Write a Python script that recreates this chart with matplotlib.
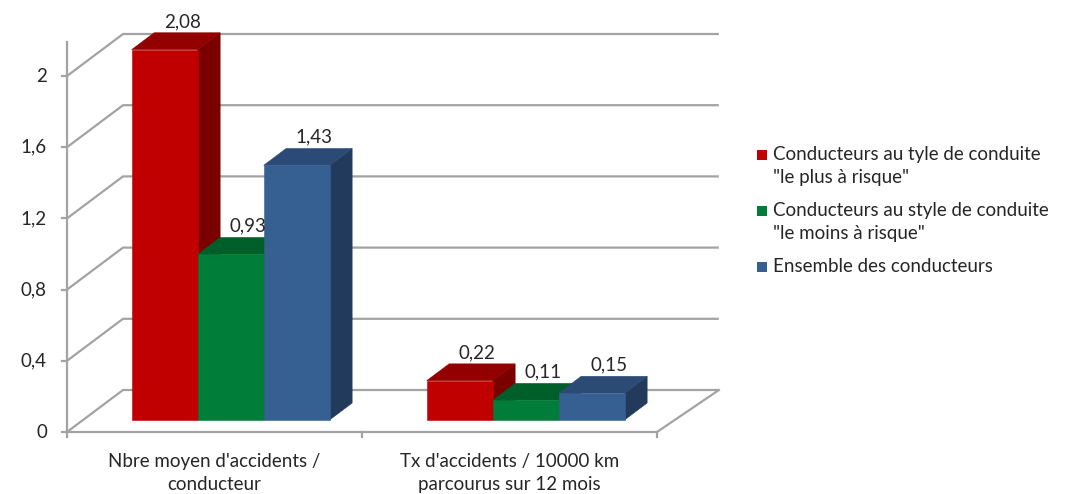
import matplotlib
matplotlib.use("Agg")
import matplotlib.pyplot as plt
from matplotlib.patches import Polygon, Rectangle

# ---- data -------------------------------------------------------------
categories = ["Nbre moyen d'accidents /\nconducteur",
              "Tx d'accidents / 10000 km\nparcourus sur 12 mois"]
series_names = ['Conducteurs au tyle de conduite\n"le plus à risque"',
                'Conducteurs au style de conduite\n"le moins à risque"',
                'Ensemble des conducteurs']
most_risky = [2.08, 0.22]
least_risky = [0.93, 0.11]
all_drivers = [1.43, 0.15]
value_labels = [["2,08", "0,22"], ["0,93", "0,11"], ["1,43", "0,15"]]
yticks = [0, 0.4, 0.8, 1.2, 1.6, 2.0]
ytick_labels = ["0", "0,4", "0,8", "1,2", "1,6", "2"]

series_values = [most_risky, least_risky, all_drivers]
# front / top / side shades for each series
palette = [("#C00000", "#930000", "#7A0000"),
           ("#007E39", "#005E28", "#004C20"),
           ("#376092", "#2B4B76", "#223B5D")]

# ---- figure & scales ---------------------------------------------------
W, H = 1070, 494
fig = plt.figure(figsize=(W / 100, H / 100), dpi=100)
ax = fig.add_axes([0, 0, 1, 1])
ax.axis("off")

PX_CAT = 295.0     # pixels per category
PX_VAL = 178.0     # pixels per unit of value
X0, Y0 = 67.0, 432.0
ax.set_xlim(-X0 / PX_CAT, (W - X0) / PX_CAT)
ax.set_ylim(-(H - Y0) / PX_VAL, Y0 / PX_VAL)

DX = 56 / PX_CAT   # depth offset of the back wall
DY = 42 / PX_VAL
ncat = len(categories)


def proj(x, v, d):
    return (x + d * DX, v + d * DY)


plt.rcParams["font.family"] = ["Lato", "DejaVu Sans"]
grid_c = "#A3A3A3"
lw = 1.6
FS = 13.5
TXT = "#262626"

# walls: side diagonals + back gridlines
for v in yticks:
    a, b = proj(0, v, 0), proj(0, v, 1)
    c = proj(ncat + 0.02, v, 1)
    ax.plot([a[0], b[0], c[0]], [a[1], b[1], c[1]], color=grid_c, lw=lw,
            solid_capstyle="butt", zorder=1)

# floor front edge and right edge
p1, p2, p3 = proj(0, 0, 0), proj(ncat, 0, 0), proj(ncat + 0.02, 0, 1)
ax.plot([p1[0], p2[0], p3[0]], [p1[1], p2[1], p3[1]], color=grid_c, lw=lw, zorder=1)

# value axis
ax.plot([0, 0], [0, 2.19], color=grid_c, lw=lw, zorder=1)
tick_len_x = 5 / PX_CAT
tick_len_y = 5 / PX_VAL
for v, lab in zip(yticks, ytick_labels):
    ax.plot([-tick_len_x, 0], [v, v], color=grid_c, lw=lw, zorder=1)
    ax.text(-20 / PX_CAT, v, lab, ha="right", va="center", fontsize=FS,
            color=TXT)
for i in range(ncat + 1):
    ax.plot([i, i], [0, -tick_len_y], color=grid_c, lw=lw, zorder=1)

for i, lab in enumerate(categories):
    ax.text(i + 0.5, -21 / PX_VAL, lab, ha="center", va="top", fontsize=FS,
            color=TXT, linespacing=1.42)

# ---- 3D-looking bars ----------------------------------------------------
bw = 66 / PX_CAT
d0, d1 = 0.29, 0.69
z = 3
for i in range(ncat):
    start = i + 0.5 - 1.5 * bw
    for j, vals in enumerate(series_values):
        v = vals[i]
        l, r = start + j * bw, start + (j + 1) * bw
        front_c, top_c, side_c = palette[j]
        side = [proj(r, 0, d0), proj(r, 0, d1), proj(r, v, d1), proj(r, v, d0)]
        top = [proj(l, v, d0), proj(r, v, d0), proj(r, v, d1), proj(l, v, d1)]
        front = [proj(l, 0, d0), proj(r, 0, d0), proj(r, v, d0), proj(l, v, d0)]
        for pts, col in ((side, side_c), (top, top_c), (front, front_c)):
            ax.add_patch(Polygon(pts, closed=True, facecolor=col,
                                 edgecolor=col, lw=0.4, zorder=z))
        z += 1
        lx, ly = proj((l + r) / 2, v, 0.6)
        ax.annotate(value_labels[j][i], (lx, v + d1 * DY), xytext=(0, 2),
                    textcoords="offset points", ha="center", va="bottom",
                    fontsize=FS, color=TXT, zorder=20)

# ---- legend ------------------------------------------------------------
def fig_xy(px, py):
    return px / W, 1 - py / H


legend_rows = [155, 211, 267]
for name, (front_c, _, _), py in zip(series_names, palette, legend_rows):
    sx, sy = fig_xy(757, py + 5)
    fig.patches.append(Rectangle((sx, sy), 10 / W, 10 / H, transform=fig.transFigure,
                                 facecolor=front_c, edgecolor="none"))
    tx, ty = fig_xy(773, py - 9)
    fig.text(tx, ty, name, ha="left", va="top", fontsize=FS, color=TXT,
             linespacing=1.42)

fig.savefig("out.png", dpi=100, facecolor="white")
